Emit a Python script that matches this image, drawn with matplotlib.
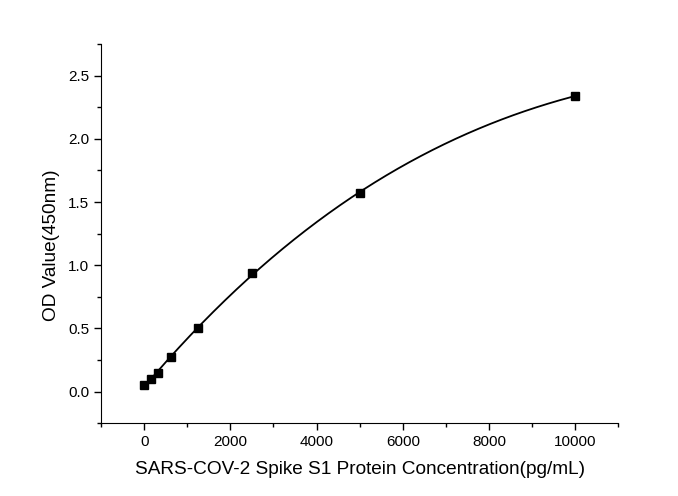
import numpy as np
import matplotlib
matplotlib.use('Agg')
import matplotlib.pyplot as plt
from matplotlib.ticker import MultipleLocator

plt.rcParams['font.family'] = ['Liberation Sans', 'DejaVu Sans']

# standard points
conc = [0, 156.25, 312.5, 625, 1250, 2500, 5000, 10000]
od = [0.05, 0.10, 0.15, 0.27, 0.50, 0.935, 1.575, 2.34]

fig = plt.figure(figsize=(6.78, 4.96), dpi=100)
ax = fig.add_axes([0.149, 0.147, 0.763, 0.764])

# fitted curve
coef = np.polyfit(conc, od, 3)
xx = np.linspace(min(conc), max(conc), 300)
ax.plot(xx, np.polyval(coef, xx), color='black', lw=1.3)
ax.plot(conc, od, 's', color='black', ms=6, ls='none')

ax.set_xlim(-1000, 11000)
ax.set_ylim(-0.25, 2.75)
ax.xaxis.set_major_locator(MultipleLocator(2000))
ax.xaxis.set_minor_locator(MultipleLocator(1000))
ax.yaxis.set_major_locator(MultipleLocator(0.5))
ax.yaxis.set_minor_locator(MultipleLocator(0.25))
ax.yaxis.set_major_formatter(matplotlib.ticker.FormatStrFormatter('%.1f'))

for s in ['top', 'right']:
    ax.spines[s].set_visible(False)
ax.tick_params(which='both', direction='out', labelsize=11, width=1)
ax.tick_params(which='major', length=5)
ax.tick_params(which='minor', length=3)

ax.set_xlabel('SARS-COV-2 Spike S1 Protein Concentration(pg/mL)', fontsize=13.7, labelpad=9)
ax.set_ylabel('OD Value(450nm)', fontsize=13.7)
ax.yaxis.set_label_coords(-0.08, 0.47)

fig.savefig('out.png', dpi=100)
